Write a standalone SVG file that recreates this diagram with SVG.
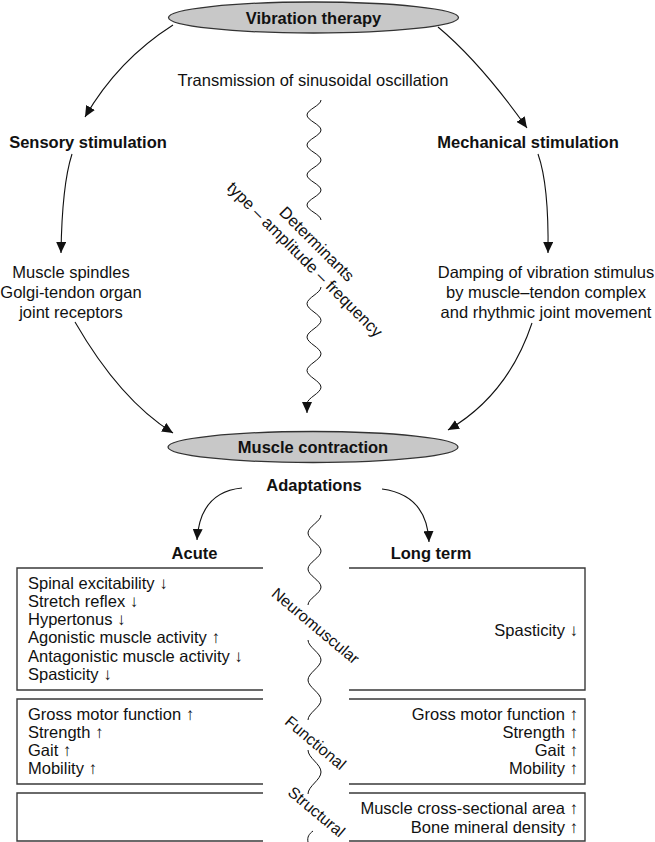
<svg xmlns="http://www.w3.org/2000/svg" width="655" height="842" viewBox="0 0 655 842">
<style>
text{font-family:"Liberation Sans",Arial,sans-serif;fill:#111}
.b{font-weight:bold;font-size:16.5px}
.r{font-size:16.5px}
.lb{font-weight:bold;font-size:16.5px}
.lr{font-size:16.5px}
.ar{font-size:17px;fill:#111}
.rot{font-size:16.5px}
.rot2{font-size:16px}
.m{text-anchor:middle}
.e{text-anchor:end}
.ell{fill:#c8c8c8;stroke:#333;stroke-width:1.3}
.con{fill:none;stroke:#111;stroke-width:1.1}
.wav{fill:none;stroke:#111;stroke-width:1}
.box{fill:none;stroke:#3a3a3a;stroke-width:1.4}
</style>
<defs>
<marker id="ah" markerUnits="userSpaceOnUse" markerWidth="12" markerHeight="10" refX="11" refY="5" orient="auto">
<path d="M0,0 L11,5 L0,10 z" fill="#111"/>
</marker>
</defs>
<g id="vibration-therapy">
<ellipse class="ell" cx="313.5" cy="17.5" rx="145" ry="15.5"/>
<text class="b m" x="313.5" y="23.5">Vibration therapy</text>
</g>
<g id="transmission">
<text class="r m" x="313" y="85.5">Transmission of sinusoidal oscillation</text>
</g>
<g id="sensory-stimulation">
<text class="b m" x="88" y="147.5">Sensory stimulation</text>
</g>
<g id="mechanical-stimulation">
<text class="b m" x="528" y="147.5">Mechanical stimulation</text>
</g>
<g id="receptors">
<text class="r m" x="71" y="277.5">Muscle spindles</text>
<text class="r m" x="71" y="297.5">Golgi-tendon organ</text>
<text class="r m" x="71" y="317.5">joint receptors</text>
</g>
<g id="damping">
<text class="r m" x="546" y="277.5">Damping of vibration stimulus</text>
<text class="r m" x="546" y="297.5">by muscle–tendon complex</text>
<text class="r m" x="546" y="317.5">and rhythmic joint movement</text>
</g>
<g id="determinants">
<text class="rot m" transform="translate(313,248) rotate(45)">Determinants</text>
<text class="rot m" transform="translate(301,263.5) rotate(45)">type – amplitude – frequency</text>
</g>
<g id="muscle-contraction">
<ellipse class="ell" cx="313" cy="447" rx="145" ry="15.5"/>
<text class="lb m" x="313" y="452.5">Muscle contraction</text>
</g>
<g id="adaptations">
<text class="lb m" x="314" y="491">Adaptations</text>
</g>
<g id="acute">
<text class="lb m" x="194.5" y="559">Acute</text>
</g>
<g id="long-term">
<text class="lb m" x="431" y="559">Long term</text>
</g>
<g id="neuromuscular-acute">
<path class="box" d="M263,568 H17 V690 H263"/>
<text class="lr" x="28" y="588.5">Spinal excitability <tspan class="ar">↓</tspan></text>
<text class="lr" x="28" y="606.8">Stretch reflex <tspan class="ar">↓</tspan></text>
<text class="lr" x="28" y="625.1">Hypertonus <tspan class="ar">↓</tspan></text>
<text class="lr" x="28" y="643.4">Agonistic muscle activity <tspan class="ar">↑</tspan></text>
<text class="lr" x="28" y="661.7">Antagonistic muscle activity <tspan class="ar">↓</tspan></text>
<text class="lr" x="28" y="680">Spasticity <tspan class="ar">↓</tspan></text>
</g>
<g id="neuromuscular-longterm">
<path class="box" d="M349,568 H585 V690 H349"/>
<text class="lr e" x="578" y="635.5">Spasticity <tspan class="ar">↓</tspan></text>
</g>
<g id="functional-acute">
<path class="box" d="M263,699 H17 V784 H263"/>
<text class="lr" x="28" y="719.5">Gross motor function <tspan class="ar">↑</tspan></text>
<text class="lr" x="28" y="737.5">Strength <tspan class="ar">↑</tspan></text>
<text class="lr" x="28" y="755.5">Gait <tspan class="ar">↑</tspan></text>
<text class="lr" x="28" y="773.5">Mobility <tspan class="ar">↑</tspan></text>
</g>
<g id="functional-longterm">
<path class="box" d="M349,699 H585 V784 H349"/>
<text class="lr e" x="578" y="719.5">Gross motor function <tspan class="ar">↑</tspan></text>
<text class="lr e" x="578" y="737.5">Strength <tspan class="ar">↑</tspan></text>
<text class="lr e" x="578" y="755.5">Gait <tspan class="ar">↑</tspan></text>
<text class="lr e" x="578" y="773.5">Mobility <tspan class="ar">↑</tspan></text>
</g>
<g id="structural-acute">
<path class="box" d="M263,793 H17 V841 H263"/>
</g>
<g id="structural-longterm">
<path class="box" d="M349,793 H585 V841 H349"/>
<text class="lr e" x="578" y="813.5">Muscle cross-sectional area <tspan class="ar">↑</tspan></text>
<text class="lr e" x="578" y="832.5">Bone mineral density <tspan class="ar">↑</tspan></text>
</g>
<g id="category-labels">
<text class="rot2 m" transform="translate(312,630) rotate(40)">Neuromuscular</text>
<text class="rot2 m" transform="translate(312,747) rotate(40)">Functional</text>
<text class="rot2 m" transform="translate(313,816) rotate(40)">Structural</text>
</g>
<g id="connectors">
<path class="con" marker-end="url(#ah)" d="M173,25 Q118,60 85,117"/>
<path class="con" marker-end="url(#ah)" d="M438,27 Q480,62 527,128"/>
<path class="con" marker-end="url(#ah)" d="M72,154 Q62,185 61,253"/>
<path class="con" marker-end="url(#ah)" d="M538,154 Q549,185 548,253"/>
<path class="con" marker-end="url(#ah)" d="M75,322 Q120,400 173,433"/>
<path class="con" marker-end="url(#ah)" d="M532,323 Q508,395 448,430"/>
<path class="con" marker-end="url(#ah)" d="M242,488 Q200,492 197,540"/>
<path class="con" marker-end="url(#ah)" d="M382,489 Q427,495 429,542"/>
<path class="wav" d="M321,100 c0,5.4 -14,9.6 -14,15 s14,9.6 14,15 s-14,9.6 -14,15 s14,9.6 14,15 s-14,9.6 -14,15 s14,9.6 14,15 s-14,9.6 -14,15 s14,9.6 14,15"/>
<path class="wav" marker-end="url(#ah)" d="M321,287 c0,6 -14,10.7 -14,16.7 s14,10.7 14,16.7 s-14,10.7 -14,16.7 s14,10.7 14,16.7 s-14,10.7 -14,16.7 s14,10.7 14,16.7 s-14,10.7 -14,16.7 L307,413"/>
<path class="wav" d="M321,515 c0,6.5 -13,11.5 -13,18 s13,11.5 13,18 s-13,11.5 -13,18 s13,11.5 13,18 s-13,11.5 -13,18"/>
<path class="wav" d="M308,640 c0,7 13,13 13,20 s-13,13 -13,20 s13,13 13,20 s-13,13 -13,20"/>
<path class="wav" d="M308,750 c0,8 13,14 13,22 s-13,14 -13,22"/>
<path class="wav" d="M313,831 c-4,3 -6,6 -5,11"/>
</g>
</svg>
